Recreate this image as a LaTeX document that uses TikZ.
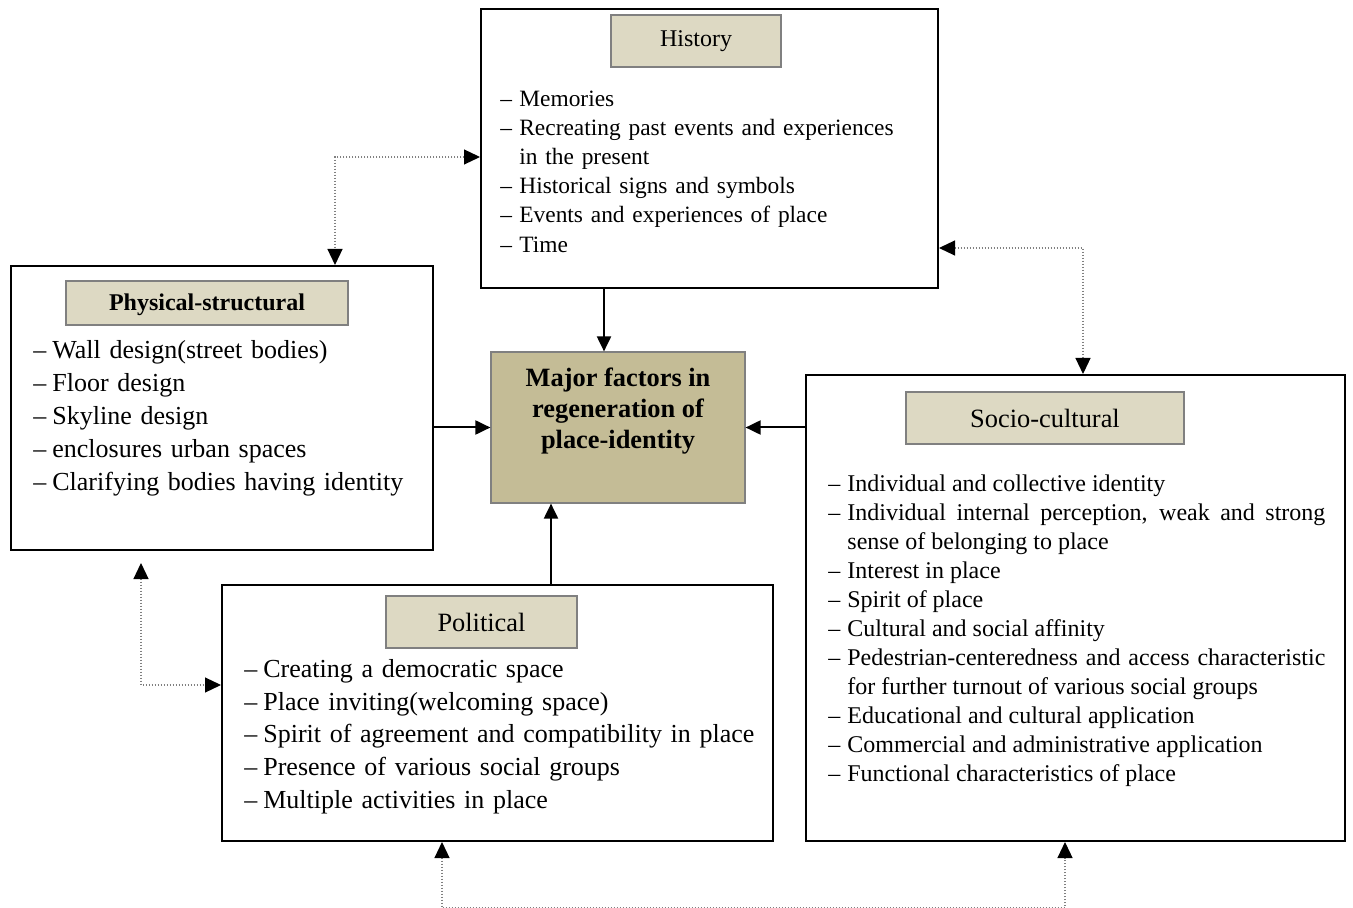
\documentclass[tikz,border=0pt]{standalone}
\usepackage{fontspec}
\setmainfont{Liberation Serif}
\usetikzlibrary{arrows.meta, positioning, calc}
\definecolor{tanlight}{HTML}{DDD9C3}
\definecolor{tandark}{HTML}{C4BC96}
\definecolor{rimgray}{HTML}{808080}

\newcommand{\dashitem}{\par\hangindent=9.5pt\hangafter=1\noindent\strut\makebox[9.5pt][l]{--}}

\begin{document}
\begin{tikzpicture}[x=0.5pt, y=-0.5pt]
  \tikzstyle{panel} = [rectangle, draw=black, line width=1pt, fill=white]
  \tikzstyle{heading} = [rectangle, draw=rimgray, line width=0.6pt, fill=tanlight, inner sep=0pt]
  \tikzstyle{items} = [anchor=north west, inner sep=0pt]
  \tikzstyle{arrow} = [line width=1pt, -{Triangle[length=7.5pt,width=7pt]}]
  \tikzstyle{dotlink} = [gray, dash pattern=on 0.6pt off 0.9pt, line width=0.6pt, {Triangle[length=8pt,width=7.5pt,black]}-{Triangle[length=8pt,width=7.5pt,black]}]

  \useasboundingbox (0,0) rectangle (1353,908);

  % outer boxes
  \node[panel, minimum width=228.5pt, minimum height=139.5pt] (hist) at (709.5,148.5) {};
  \node[panel, minimum width=211pt, minimum height=142pt] (phys) at (222,408) {};
  \node[panel, minimum width=269.5pt, minimum height=233pt] (socio) at (1075.5,608) {};
  \node[panel, minimum width=275.5pt, minimum height=128pt] (pol) at (497.5,713) {};
  \node[rectangle, draw=rimgray, line width=0.6pt, fill=tandark, minimum width=127pt, minimum height=75.5pt] (hub) at (618,427.5) {};
  \node[align=center, font=\fontsize{13.2}{15.5}\selectfont\bfseries] (hubtext) at (618,411.5) {Major factors in\\regeneration of\\place-identity};

  % headings
  \node[heading, minimum width=85pt, minimum height=26pt, font=\fontsize{12}{14}\selectfont] (histhead) at (696,41) {History};
  \node[heading, minimum width=141pt, minimum height=22pt, text depth=1pt, font=\fontsize{12}{14}\selectfont\bfseries] (physhead) at (207,303) {Physical-structural};
  \node[heading, minimum width=139pt, minimum height=26pt, font=\fontsize{13.2}{15}\selectfont] (sociohead) at (1045,418) {Socio-cultural};
  \node[heading, minimum width=95.5pt, minimum height=26pt, font=\fontsize{13.2}{15}\selectfont] (polhead) at (481.5,622) {Political};

  % lists
  \node[items, text width=215pt, align=left, font=\fontsize{11.7}{14.6}\selectfont] (histlist) at (500,76.5) {%
    \dashitem Memories
    \dashitem Recreating past events and experiences\newline in the present
    \dashitem Historical signs and symbols
    \dashitem Events and experiences of place
    \dashitem Time};
  \node[items, text width=200pt, align=left, font=\fontsize{13}{16.5}\selectfont] (physlist) at (33,325) {%
    \dashitem Wall design(street bodies)
    \dashitem Floor design
    \dashitem Skyline design
    \dashitem enclosures urban spaces
    \dashitem Clarifying bodies having identity};
  \node[items, text width=248.5pt, align=justify, font=\fontsize{12}{14.5}\selectfont] (sociolist) at (828,462.5) {%
    \dashitem Individual and collective identity
    \dashitem Individual internal perception, weak and strong sense of belonging to place
    \dashitem Interest in place
    \dashitem Spirit of place
    \dashitem Cultural and social affinity
    \dashitem Pedestrian-centeredness and access characteristic for further turnout of various social groups
    \dashitem Educational and cultural application
    \dashitem Commercial and administrative application
    \dashitem Functional characteristics of place};
  \node[items, text width=262pt, align=left, font=\fontsize{13}{16.4}\selectfont] (pollist) at (244,644) {%
    \dashitem Creating a democratic space
    \dashitem Place inviting(welcoming space)
    \dashitem Spirit of agreement and compatibility in place
    \dashitem Presence of various social groups
    \dashitem Multiple activities in place};

  % solid arrows into the hub
  \draw[arrow] ([xshift=-7pt]hub.north |- hist.south) -- ([xshift=-7pt]hub.north);
  \draw[arrow] (phys.east |- hub.west) -- (hub.west);
  \draw[arrow] (socio.west |- hub.east) -- (hub.east);
  \draw[arrow] ([xshift=-33.5pt]hub.south |- pol.north) -- ([xshift=-33.5pt]hub.south);

  % dotted links
  \draw[dotlink] ([yshift=-4.25pt]hist.west) -| ([xshift=56.5pt]phys.north);
  \draw[dotlink] ([yshift=-49.75pt]hist.east) -| ([xshift=3.75pt]socio.north);
  \draw[dotlink, shorten <=6pt] ([xshift=-40.5pt]phys.south) |- ([yshift=14pt]pol.west);
  \draw[dotlink] ([xshift=-27.75pt]pol.south) -- ++(0,66) -| ([xshift=-5.25pt]socio.south);
\end{tikzpicture}
\end{document}
